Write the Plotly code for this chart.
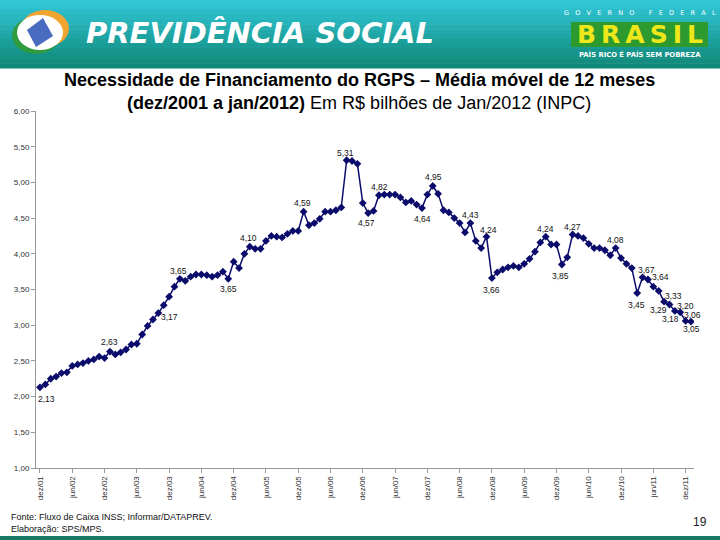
import plotly.graph_objects as go

# Necessidade de financiamento do RGPS - média móvel de 12 meses (R$ bilhões)
valores = [
    2.13, 2.17, 2.25, 2.28, 2.33, 2.34, 2.43, 2.45, 2.47, 2.50, 2.52, 2.56,
    2.54, 2.63, 2.59, 2.62, 2.66, 2.73, 2.74, 2.87, 2.99, 3.08, 3.17, 3.28,
    3.40, 3.54, 3.65, 3.62, 3.68, 3.71, 3.71, 3.70, 3.68, 3.70, 3.75, 3.65,
    3.89, 3.80, 4.00, 4.10, 4.07, 4.07, 4.18, 4.25, 4.24, 4.23, 4.28, 4.32,
    4.32, 4.59, 4.40, 4.43, 4.49, 4.59, 4.59, 4.61, 4.65, 5.31, 5.30, 5.26,
    4.71, 4.57, 4.60, 4.82, 4.83, 4.83, 4.83, 4.79, 4.72, 4.74, 4.69, 4.64,
    4.83, 4.95, 4.84, 4.61, 4.58, 4.50, 4.43, 4.30, 4.43, 4.18, 4.08, 4.24,
    3.66, 3.74, 3.78, 3.81, 3.83, 3.81, 3.86, 3.93, 4.03, 4.16, 4.24, 4.13,
    4.13, 3.85, 3.95, 4.27, 4.25, 4.22, 4.14, 4.08, 4.08, 4.05, 3.98, 4.08,
    3.94, 3.86, 3.80, 3.45, 3.67, 3.64, 3.54, 3.48, 3.33, 3.29, 3.20, 3.18,
    3.06, 3.05,
]
meses = list(range(len(valores)))  # dez/01 ... jan/12

rotulos_x = [
    "dez/01", "jun/02", "dez/02", "jun/03", "dez/03", "jun/04", "dez/04",
    "jun/05", "dez/05", "jun/06", "dez/06", "jun/07", "dez/07", "jun/08",
    "dez/08", "jun/09", "dez/09", "jun/10", "dez/10", "jun/11", "dez/11",
]
posicoes_x = meses[::6][:len(rotulos_x)]
ticks_y = [1.0, 1.5, 2.0, 2.5, 3.0, 3.5, 4.0, 4.5, 5.0, 5.5, 6.0]

# pontos com rótulo de valor -> deslocamento do texto em pixels (x, y)
rotulos_pontos = {
    0: (7, -12), 13: (0, 10), 22: (11, -4), 26: (-1, 8), 35: (0, -10),
    39: (-1, 9), 49: (-1, 9), 57: (-1, 7), 61: (-2, -10), 63: (1, 8),
    71: (1, -11), 73: (1, 9), 80: (0, 8), 83: (2, 7), 84: (0, -12),
    94: (0, 8), 97: (-1, -11), 99: (0, 8), 107: (0, 8), 111: (-1, -12),
    112: (4, 7), 113: (13, 3), 116: (9, 6), 117: (-11, -6), 118: (11, 5),
    119: (-10, -7), 120: (7, 6), 121: (1, -7),
}

L, R, T, B = 36, 26, 111, 72
W, H = 720 - L - R, 540 - T - B


def px(x):
    return (x - L) / W


def py(y):
    return (540 - B - y) / H


fig = go.Figure()
fig.add_trace(
    go.Scatter(
        x=meses,
        y=valores,
        mode="lines+markers",
        line={"color": "#0b0b6b", "width": 1.5},
        marker={"symbol": "diamond", "size": 6, "color": "#0b0b6b"},
        showlegend=False,
        hoverinfo="y",
    )
)

for i, (dx, dy) in rotulos_pontos.items():
    fig.add_annotation(
        x=meses[i], y=valores[i], text=f"{valores[i]:.2f}".replace(".", ","),
        showarrow=False, xshift=dx, yshift=dy,
        font={"family": "Liberation Sans, Arial", "size": 8.5, "color": "#111"},
    )

# faixa do cabeçalho (degradê)
topo, base = (48, 198, 214), (16, 136, 120)
n = 14
for k in range(n):
    t = k / (n - 1)
    cor = tuple(round(a + (b - a) * t) for a, b in zip(topo, base))
    y0, y1 = 68 * k / n, 68 * (k + 1) / n
    fig.add_shape(
        type="rect", xref="paper", yref="paper", layer="above",
        x0=px(0), x1=px(720), y0=py(y1 + 0.5), y1=py(y0),
        fillcolor="rgb(%d,%d,%d)" % cor, line={"width": 0},
    )


def forma(tipo, x0, x1, y0, y1, cor):
    fig.add_shape(type=tipo, xref="paper", yref="paper", x0=px(x0), x1=px(x1),
                  y0=py(y1), y1=py(y0), fillcolor=cor, line={"width": 0})


# logotipo estilizado
forma("circle", 12, 60, 17, 54, "#2e9b3e")
forma("circle", 21, 69, 10, 47, "#f2a431")
forma("circle", 17, 63, 15, 50, "#ffffff")
losango = "M %f %f L %f %f L %f %f L %f %f Z" % (
    px(27), py(30), px(43), py(18), px(53), py(36), px(36), py(47))
fig.add_shape(type="path", xref="paper", yref="paper", path=losango,
              fillcolor="#4a6cc0", line={"width": 0})

# marca Brasil
forma("rect", 571, 708, 22, 47, "#2c9a2e")

forma("rect", 0, 720, 536, 540, "#1b7a66")

ns = "\u00a0"
fino = "\u2009"
textos = [
    (260, 33, "<b><i>PREVIDÊNCIA SOCIAL</i></b>", 29, "#ffffff", "DejaVu Sans"),
    (640, 13, (ns * 3).join("GOVERNO") + ns * 7 + (ns * 3).join("FEDERAL"),
     6.5, "#ffffff", "DejaVu Sans"),
    (640, 34.5, "<b>" + fino.join("BRASIL") + "</b>", 25, "#eee81a", "DejaVu Sans"),
    (640, 55, "<b>PAÍS RICO É PAÍS SEM POBREZA</b>", 6.8, "#ffffff", "DejaVu Sans"),
    (359, 80, "<b>Necessidade de Financiamento do RGPS – Média móvel de 12 meses</b>",
     18, "#000000", "Liberation Sans"),
    (359, 103, "<b>(dez/2001 a jan/2012)</b> Em R$ bilhões de Jan/2012 (INPC)",
     18, "#000000", "Liberation Sans"),
    (700, 522, "19", 12, "#222222", "Liberation Sans"),
]
for x, y, txt, tam, cor, fam in textos:
    fig.add_annotation(
        xref="paper", yref="paper", x=px(x), y=py(y), text=txt,
        showarrow=False, xanchor="center", yanchor="middle",
        font={"family": fam, "size": tam, "color": cor},
    )

fig.add_annotation(
    xref="paper", yref="paper", x=px(9), y=py(523), xanchor="left", yanchor="middle",
    text="Fonte: Fluxo de Caixa INSS; Informar/DATAPREV.<br>Elaboração: SPS/MPS.",
    showarrow=False, align="left",
    font={"family": "Liberation Sans, Arial", "size": 9, "color": "#111"},
)

fig.update_layout(
    width=720,
    height=540,
    autosize=False,
    margin={"l": L, "r": R, "t": T, "b": B},
    paper_bgcolor="#ffffff",
    plot_bgcolor="#ffffff",
    separators=",.",
    font={"family": "Liberation Sans, Arial", "size": 8, "color": "#222"},
)
fig.update_xaxes(
    range=[-0.74, 121.56],
    tickvals=posicoes_x,
    ticktext=rotulos_x,
    tickangle=-90,
    ticks="outside",
    ticklen=4,
    tickcolor="#999",
    showline=True,
    linecolor="#999",
    showgrid=False,
    zeroline=False,
    tickfont={"size": 8, "color": "#333"},
)
fig.update_yaxes(
    range=[1, 6],
    tickvals=ticks_y,
    tickformat=".2f",
    ticks="outside",
    ticklen=4,
    tickcolor="#999",
    showline=True,
    linecolor="#999",
    showgrid=False,
    zeroline=False,
    tickfont={"size": 8, "color": "#333"},
)

fig.write_html(
    "out.html",
    config={"displayModeBar": False},
    post_script="document.body.style.margin='0';",
)
